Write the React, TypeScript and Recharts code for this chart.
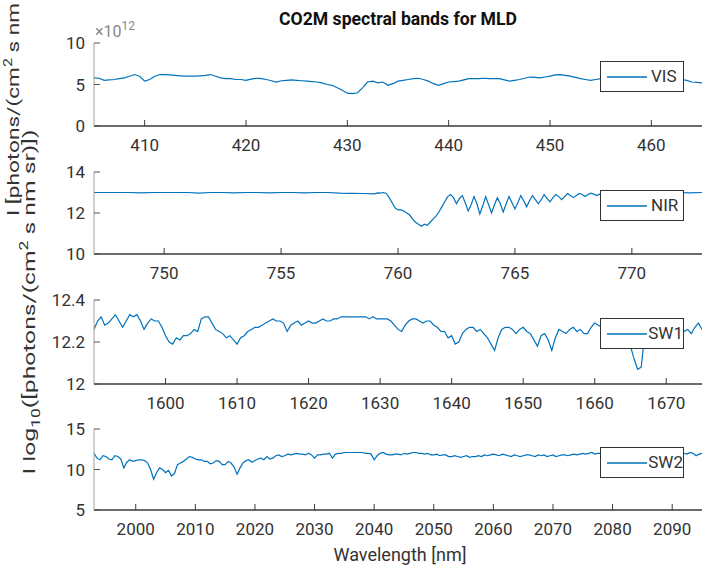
import React from 'react';
import { LineChart, Line, XAxis, YAxis, Legend } from 'recharts';

// sampling grids (start, step) for each band
const VIS_START = 405;
const VIS_STEP = 0.5;
const SW1_START = 1590;
const SW1_STEP = 0.5;
const SW2_START = 1993;
const SW2_STEP = 0.5;
// NIR is sampled finer inside the O2 A-band
const NIR_A_START = 747;
const NIR_A_STEP = 0.5;
const NIR_B_START = 759.125;
const NIR_B_STEP = 0.125;
const NIR_C_START = 769.5;
const NIR_C_STEP = 0.5;

// radiance, VIS in units of 1e12 photons/(cm2 s nm sr)
const VIS_VALUES = [
  5.8, 5.75, 5.5, 5.55, 5.6, 5.7, 5.8, 6.0, 6.2, 6.0,
  5.4, 5.6, 6.0, 6.2, 6.2, 6.15, 6.1, 6.05, 6.0, 6.0,
  6.0, 6.05, 6.1, 6.2, 6.0, 5.8, 5.7, 5.7, 5.6, 5.6,
  5.5, 5.65, 5.75, 5.7, 5.6, 5.45, 5.3, 5.45, 5.5, 5.55,
  5.5, 5.45, 5.4, 5.35, 5.3, 5.2, 5.0, 4.9, 4.6, 4.3,
  3.95, 3.9, 4.0, 4.6, 5.3, 5.4, 5.2, 5.3, 4.9, 5.1,
  5.4, 5.5, 5.6, 5.7, 5.75, 5.6, 5.4, 5.1, 4.9, 5.1,
  5.3, 5.35, 5.4, 5.55, 5.7, 5.7, 5.7, 5.75, 5.7, 5.7,
  5.7, 5.55, 5.4, 5.5, 5.6, 5.75, 5.9, 5.85, 5.8, 5.9,
  6.0, 6.15, 6.2, 6.1, 6.0, 5.85, 5.7, 5.6, 5.5, 5.6,
  5.7, 5.6, 5.5, 5.6, 5.7, 5.7, 5.75, 5.7, 5.65, 5.7,
  5.8, 5.75, 5.7, 5.65, 5.6, 5.6, 5.6, 5.5, 5.3, 5.25,
  5.2,
];

// log10 radiance
const NIR_A_VALUES = [
  13.0, 13.0, 13.0, 13.0, 12.98, 13.0, 13.0, 13.0, 13.0, 12.97,
  13.0, 13.0, 12.98, 13.0, 13.0, 12.98, 13.0, 13.0, 12.98, 13.0,
  13.0, 12.97, 12.96, 12.95, 12.93,
];
const NIR_B_VALUES = [
  12.98, 12.97, 13.0, 12.95, 12.75, 12.5, 12.25,
  12.15, 12.15, 12.1, 12.0, 11.9, 11.7, 11.55, 11.45,
  11.35, 11.45, 11.4, 11.55, 11.7, 11.85, 12.05, 12.3,
  12.55, 12.8, 12.9, 12.75, 12.45, 12.7, 12.85, 12.5,
  12.1, 12.4, 12.8, 12.45, 11.95, 12.35, 12.8, 12.4,
  12.0, 12.4, 12.75, 12.45, 12.05, 12.45, 12.8, 12.5,
  12.2, 12.5, 12.85, 12.6, 12.3, 12.6, 12.85, 12.65,
  12.45, 12.65, 12.9, 12.7, 12.55, 12.75, 12.9, 12.8,
  12.65, 12.8, 12.95, 12.85, 12.75, 12.85, 12.95, 12.9,
  12.8, 12.9, 12.97, 12.92, 12.85, 12.92, 12.98, 12.95,
  12.9,
];
const NIR_C_VALUES = [12.95, 13.0, 12.97, 13.0, 12.98, 13.0, 12.98, 13.0];

const SW1_VALUES = [
  12.26, 12.3, 12.32, 12.28, 12.29, 12.31, 12.33, 12.3, 12.27, 12.3,
  12.33, 12.32, 12.33, 12.3, 12.26, 12.29, 12.31, 12.3, 12.3, 12.27,
  12.23, 12.2, 12.19, 12.22, 12.21, 12.23, 12.23, 12.24, 12.26, 12.25,
  12.31, 12.32, 12.32, 12.29, 12.26, 12.25, 12.24, 12.22, 12.23, 12.21,
  12.19, 12.22, 12.23, 12.25, 12.26, 12.27, 12.27, 12.28, 12.29, 12.3,
  12.31, 12.3, 12.3, 12.29, 12.25, 12.28, 12.29, 12.3, 12.28, 12.29,
  12.3, 12.29, 12.29, 12.3, 12.31, 12.3, 12.3, 12.31, 12.31, 12.32,
  12.32, 12.32, 12.32, 12.32, 12.32, 12.32, 12.32, 12.31, 12.32, 12.31,
  12.31, 12.31, 12.31, 12.3, 12.28, 12.26, 12.25, 12.28, 12.3, 12.31,
  12.31, 12.3, 12.29, 12.3, 12.3, 12.28, 12.27, 12.25, 12.25, 12.22,
  12.23, 12.19, 12.2, 12.24, 12.26, 12.27, 12.27, 12.25, 12.26, 12.24,
  12.22, 12.19, 12.16, 12.22, 12.26, 12.27, 12.27, 12.26, 12.24, 12.26,
  12.27, 12.25, 12.24, 12.21, 12.18, 12.23, 12.24, 12.21, 12.16, 12.22,
  12.26, 12.25, 12.24, 12.26, 12.27, 12.25, 12.26, 12.24, 12.24, 12.27,
  12.29, 12.28, 12.27, 12.27, 12.28, 12.27, 12.26, 12.27, 12.26, 12.24,
  12.18, 12.12, 12.07, 12.08, 12.24, 12.27, 12.27, 12.28, 12.27, 12.26,
  12.27, 12.28, 12.26, 12.27, 12.28, 12.25, 12.26, 12.24, 12.27, 12.29,
  12.26,
];

const SW2_VALUES = [
  12.0, 11.4, 11.2, 11.7, 11.6, 11.3, 11.2, 11.7, 11.6, 11.3,
  10.2, 10.9, 11.2, 11.0, 11.1, 11.2, 11.2, 11.1, 10.8, 10.0,
  8.8, 9.6, 10.2, 10.0, 9.6, 9.9, 9.2, 9.5, 10.6, 10.8,
  11.0, 11.3, 11.6, 11.5, 11.3, 11.2, 11.2, 11.0, 11.0, 10.7,
  10.8, 11.1, 11.0, 10.6, 10.6, 11.0, 10.8, 10.3, 9.4, 10.2,
  10.8, 11.1, 11.2, 10.9, 11.1, 11.3, 11.4, 11.2, 11.6, 11.3,
  11.4, 11.7, 11.8, 11.6, 11.7, 11.9, 11.8, 11.9, 12.0, 11.9,
  11.9, 11.8, 12.0, 11.8, 11.4, 11.8, 11.8, 11.9, 11.9, 12.0,
  11.4, 11.9, 12.0, 12.0, 12.1, 12.1, 12.1, 12.1, 12.1, 12.1,
  12.1, 12.0, 12.0, 11.9, 11.2, 11.7, 12.0, 12.1, 11.9, 11.8,
  11.8, 11.9, 11.9, 11.8, 12.0, 11.9, 12.0, 12.1, 12.1, 12.0,
  12.0, 11.9, 12.0, 11.8, 11.8, 11.9, 11.7, 11.8, 11.8, 11.6,
  11.6, 11.7, 11.6, 11.5, 11.6, 11.7, 11.5, 11.6, 11.6, 11.7,
  11.6, 11.8, 11.7, 11.8, 11.9, 11.8, 11.7, 11.9, 11.8, 11.7,
  11.6, 11.8, 11.7, 11.6, 11.7, 11.8, 11.8, 11.7, 11.6, 11.8,
  11.7, 11.8, 11.6, 11.7, 11.8, 11.6, 11.7, 11.8, 11.8, 11.7,
  11.8, 11.9, 11.8, 11.9, 12.0, 11.9, 12.0, 12.1, 11.9, 12.0,
  12.0, 11.9, 12.0, 12.0, 11.9, 12.0, 12.0, 11.9, 12.0, 12.0,
  11.9, 12.0, 12.0, 11.9, 12.0, 12.0, 12.0, 11.9, 12.0, 12.0,
  12.0, 11.9, 12.1, 12.0, 12.0, 11.9, 12.1, 12.0, 12.0, 11.9,
  12.1, 12.0, 11.7, 11.9, 12.0,
];

const VIS_XTICKS = [410, 420, 430, 440, 450, 460];
const NIR_XTICKS = [750, 755, 760, 765, 770];
const SW1_XTICKS = [1600, 1610, 1620, 1630, 1640, 1650, 1660, 1670];
const SW2_XTICKS = [2000, 2010, 2020, 2030, 2040, 2050, 2060, 2070, 2080, 2090];

const VIS_YTICKS = [0, 5, 10];
const NIR_YTICKS = [10, 12, 14];
const SW1_YTICKS = [12, 12.2, 12.4];
const SW2_YTICKS = [5, 10, 15];

const LINE_COLOR = '#0072BD';
const TEXT_COLOR = '#333333';
const FONT = 'Roboto, "Noto Sans", sans-serif';
const Y_W = 40;
const TOP_PAD = 12;

function toRows(start: number, step: number, values: number[]) {
  return values.map((v, i) => ({ x: start + i * step, v }));
}

const NIR_ROWS = [
  ...toRows(NIR_A_START, NIR_A_STEP, NIR_A_VALUES),
  ...toRows(NIR_B_START, NIR_B_STEP, NIR_B_VALUES),
  ...toRows(NIR_C_START, NIR_C_STEP, NIR_C_VALUES),
];

function LegendBox({ name }: { name: string }) {
  return (
    <div
      style={{
        width: 84,
        height: 31,
        boxSizing: 'border-box',
        border: '1.5px solid #333',
        background: '#fff',
        display: 'flex',
        alignItems: 'center',
      }}
    >
      <svg width={50} height={28} style={{ display: 'block' }}>
        <line x1={6} x2={46} y1={14} y2={14} stroke={LINE_COLOR} strokeWidth={1.5} />
      </svg>
      <span style={{ fontFamily: FONT, fontSize: 17, color: TEXT_COLOR, lineHeight: '17px' }}>{name}</span>
    </div>
  );
}

type PanelProps = {
  name: string;
  rows: { x: number; v: number }[];
  xDomain: [number, number];
  xTicks: number[];
  yDomain: [number, number];
  yTicks: number[];
  top: number;
  plotH: number;
};

function Panel({ name, rows, xDomain, xTicks, yDomain, yTicks, top, plotH }: PanelProps) {
  const tickFont = { fontSize: 17, fill: TEXT_COLOR, fontFamily: FONT };
  return (
    <div style={{ position: 'absolute', left: 0, top: top - TOP_PAD }}>
      <LineChart
        width={705}
        height={plotH + TOP_PAD + 42}
        data={rows}
        margin={{ top: TOP_PAD, right: 3, bottom: 0, left: 94 - Y_W }}
      >
        <XAxis
          dataKey="x"
          type="number"
          domain={xDomain}
          ticks={xTicks}
          interval={0}
          allowDataOverflow
          height={42}
          tickSize={-6}
          tickMargin={19}
          tick={tickFont}
          axisLine={{ stroke: '#3a3a3a', strokeWidth: 1.5 }}
          tickLine={{ stroke: '#3a3a3a' }}
        />
        <XAxis
          xAxisId="top"
          orientation="top"
          dataKey="x"
          type="number"
          domain={xDomain}
          ticks={xTicks}
          interval={0}
          height={0}
          tickSize={-6}
          tick={false}
          axisLine={{ stroke: '#a0a0a0' }}
          tickLine={{ stroke: '#3a3a3a' }}
        />
        <YAxis
          type="number"
          domain={yDomain}
          ticks={yTicks}
          interval={0}
          allowDataOverflow
          width={Y_W}
          tickSize={-6}
          tickMargin={15}
          tick={tickFont}
          axisLine={{ stroke: '#a0a0a0' }}
          tickLine={{ stroke: '#555' }}
        />
        <YAxis
          yAxisId="right"
          orientation="right"
          type="number"
          domain={yDomain}
          ticks={yTicks}
          interval={0}
          width={0}
          tickSize={-6}
          tick={false}
          axisLine={{ stroke: '#a0a0a0' }}
          tickLine={{ stroke: '#555' }}
        />
        <Line
          dataKey="v"
          type="linear"
          stroke={LINE_COLOR}
          strokeWidth={1.2}
          dot={false}
          isAnimationActive={false}
        />
        <Legend
          layout="horizontal"
          verticalAlign="middle"
          align="center"
          wrapperStyle={{ top: TOP_PAD + 18, left: 600, width: 84, height: 31 }}
          content={() => <LegendBox name={name} />}
        />
      </LineChart>
    </div>
  );
}

export default function App() {
  return (
    <div style={{ position: 'relative', width: 705, height: 574, background: '#fff', overflow: 'hidden' }}>
      <style>{'body{margin:0}'}</style>
      <Panel name="VIS" rows={toRows(VIS_START, VIS_STEP, VIS_VALUES)} xDomain={[405, 465]} xTicks={VIS_XTICKS} yDomain={[0, 10]} yTicks={VIS_YTICKS} top={43} plotH={83} />
      <Panel name="NIR" rows={NIR_ROWS} xDomain={[747, 773]} xTicks={NIR_XTICKS} yDomain={[10, 14]} yTicks={NIR_YTICKS} top={172} plotH={82} />
      <Panel name="SW1" rows={toRows(SW1_START, SW1_STEP, SW1_VALUES)} xDomain={[1590, 1675]} xTicks={SW1_XTICKS} yDomain={[12, 12.4]} yTicks={SW1_YTICKS} top={300} plotH={84} />
      <Panel name="SW2" rows={toRows(SW2_START, SW2_STEP, SW2_VALUES)} xDomain={[1993, 2095]} xTicks={SW2_XTICKS} yDomain={[5, 15]} yTicks={SW2_YTICKS} top={429} plotH={81} />
      <svg width={705} height={574} style={{ position: 'absolute', left: 0, top: 0, pointerEvents: 'none' }}>
        <text x={398} y={25} textAnchor="middle" fontFamily={FONT} fontSize={19} fontWeight="bold" fill="#111" textLength={238} lengthAdjust="spacingAndGlyphs">
          CO2M spectral bands for MLD
        </text>
        <text x={95} y={37} fontFamily={FONT} fontSize={16} fill="#888">
          ×10<tspan dy={-7} fontSize={12}>12</tspan>
        </text>
        <text x={400} y={561} textAnchor="middle" fontFamily={FONT} fontSize={18} fill={TEXT_COLOR}>
          Wavelength [nm]
        </text>
        <text x={19} y={216} transform="rotate(-90 19 216)" fontFamily={FONT} fontSize={17} fill={TEXT_COLOR} textLength={252} lengthAdjust="spacingAndGlyphs">
          I [photons/(cm<tspan dy={-7} fontSize={12}>2</tspan>
          <tspan dy={7}> s nm sr)]</tspan>
        </text>
        <text x={35} y={302} transform="rotate(-90 35 302)" textAnchor="middle" fontFamily={FONT} fontSize={17} fill={TEXT_COLOR} textLength={345} lengthAdjust="spacingAndGlyphs">
          I log<tspan dy={5} fontSize={12}>10</tspan>
          <tspan dy={-5}>([photons/(cm</tspan>
          <tspan dy={-7} fontSize={12}>2</tspan>
          <tspan dy={7}> s nm sr)])</tspan>
        </text>
      </svg>
    </div>
  );
}
